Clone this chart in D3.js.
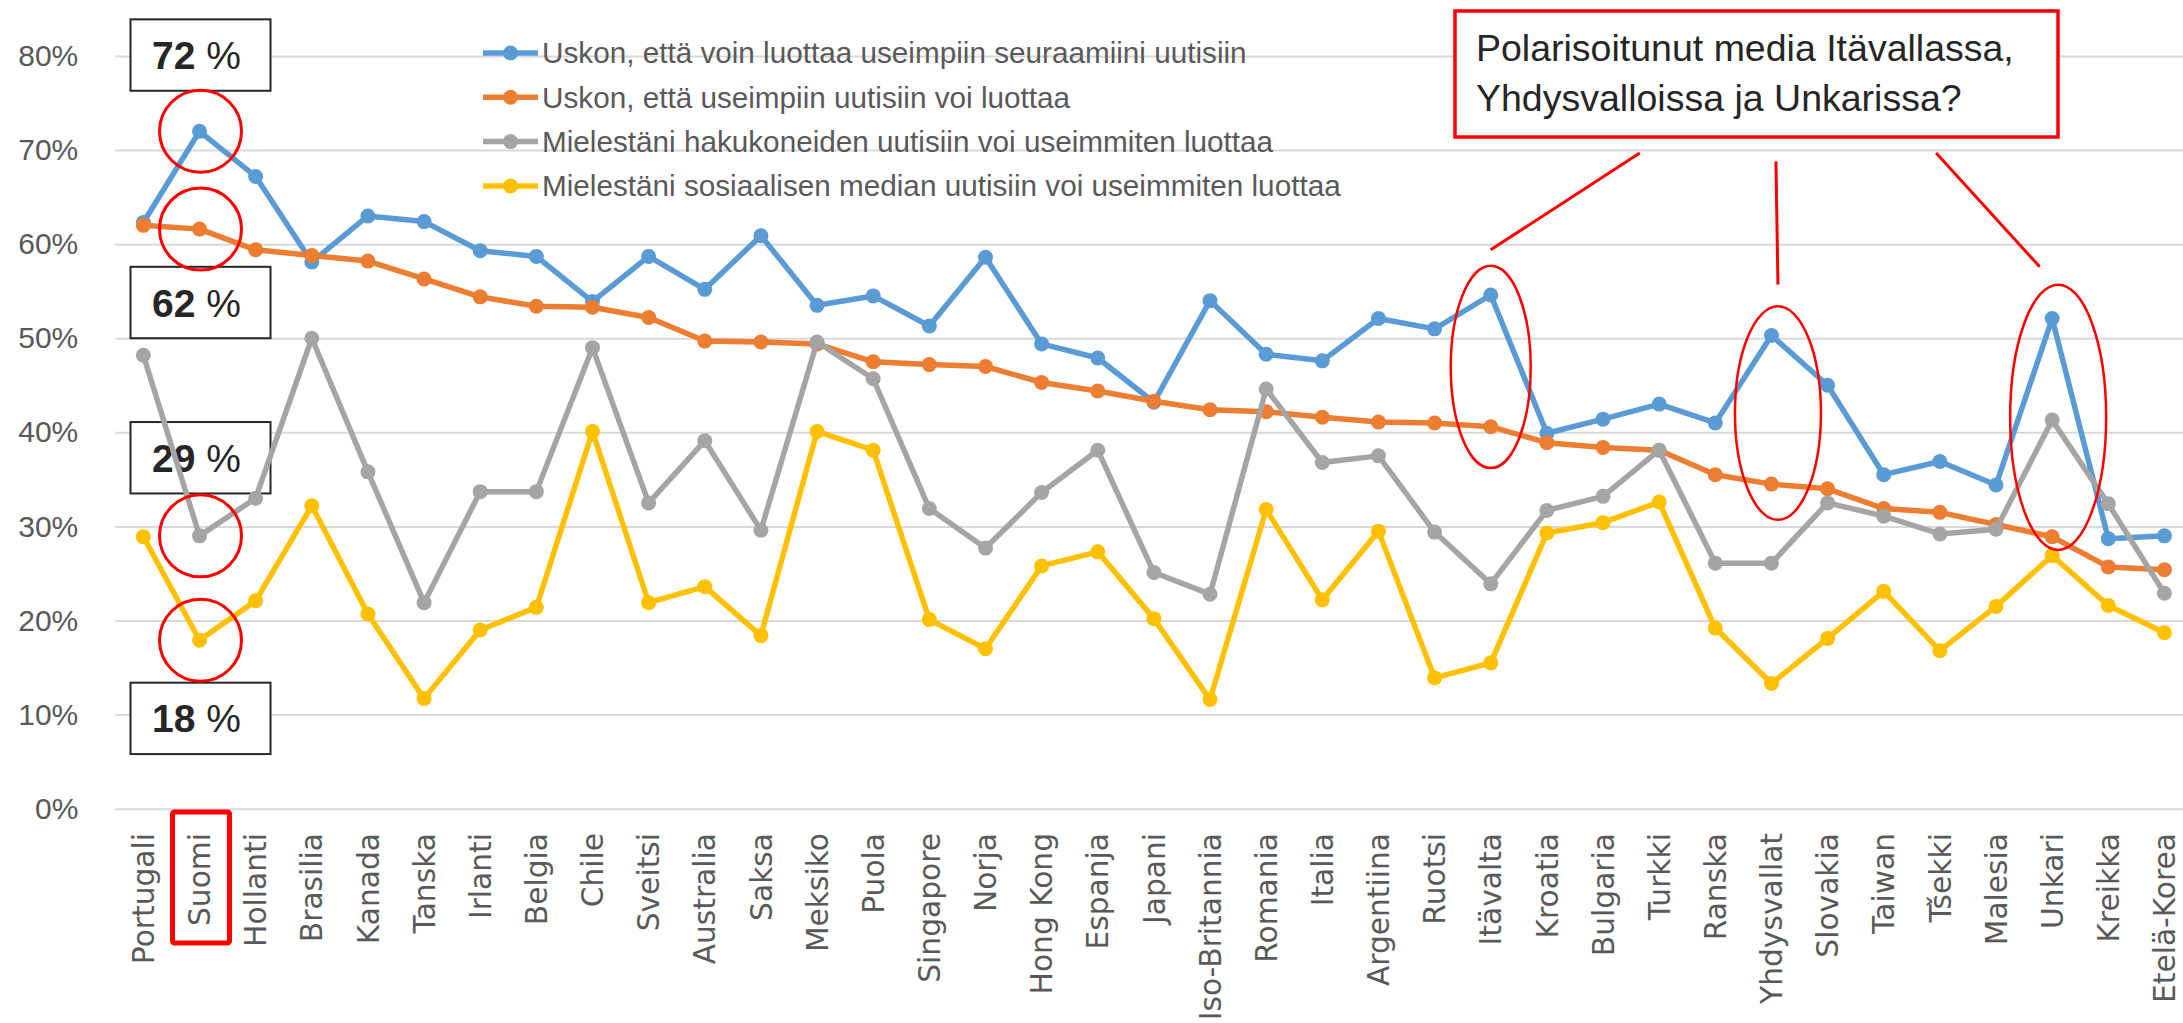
<!DOCTYPE html>
<html>
<head>
<meta charset="utf-8">
<script src="https://cdn.jsdelivr.net/npm/d3@7.9.0/dist/d3.min.js"></script>
<style>
  html, body { margin: 0; padding: 0; background: #fff; overflow: hidden; }
  svg { display: block; }
</style>
</head>
<body>
<svg id="chart" width="2183" height="1023"></svg>
<script>
// categories (countries) and the four series, in %
const categories = ["Portugali", "Suomi", "Hollanti", "Brasilia", "Kanada", "Tanska", "Irlanti", "Belgia",
  "Chile", "Sveitsi", "Australia", "Saksa", "Meksiko", "Puola", "Singapore", "Norja", "Hong Kong",
  "Espanja", "Japani", "Iso-Britannia", "Romania", "Italia", "Argentiina", "Ruotsi", "Itävalta",
  "Kroatia", "Bulgaria", "Turkki", "Ranska", "Yhdysvallat", "Slovakia", "Taiwan", "Tšekki",
  "Malesia", "Unkari", "Kreikka", "Etelä-Korea"];

const trustMyNews = [62.3, 72.0, 67.2, 58.1, 63.0, 62.4, 59.3, 58.7, 53.9, 58.7, 55.2, 60.9, 53.5,
  54.5, 51.3, 58.6, 49.4, 47.9, 43.2, 54.0, 48.3, 47.6, 52.1, 51.0, 54.6, 39.9, 41.4, 43.0, 41.0,
  50.3, 45.0, 35.5, 36.9, 34.4, 52.1, 28.7, 29.0];

const trustMostNews = [62.0, 61.6, 59.4, 58.8, 58.2, 56.3, 54.4, 53.4, 53.3, 52.2, 49.7, 49.6, 49.4,
  47.5, 47.2, 47.0, 45.3, 44.4, 43.3, 42.4, 42.2, 41.6, 41.1, 41.0, 40.6, 38.9, 38.4, 38.1, 35.5,
  34.5, 34.0, 31.9, 31.5, 30.2, 28.9, 25.7, 25.4];

const trustSearch = [48.2, 29.0, 33.0, 50.0, 35.8, 21.9, 33.7, 33.7, 49.0, 32.5, 39.1, 29.6, 49.6,
  45.7, 31.9, 27.7, 33.6, 38.1, 25.1, 22.8, 44.6, 36.8, 37.5, 29.4, 23.9, 31.7, 33.2, 38.1, 26.1,
  26.1, 32.5, 31.1, 29.2, 29.7, 41.3, 32.4, 22.9];

const trustSocial = [28.9, 17.9, 22.1, 32.2, 20.7, 11.7, 19.0, 21.4, 40.1, 21.9, 23.6, 18.4, 40.1,
  38.1, 20.1, 17.0, 25.8, 27.3, 20.2, 11.6, 31.8, 22.2, 29.5, 13.9, 15.5, 29.3, 30.4, 32.6, 19.2,
  13.3, 18.1, 23.1, 16.8, 21.5, 26.9, 21.6, 18.7];

const seriesNames = [
  "Uskon, että voin luottaa useimpiin seuraamiini uutisiin",
  "Uskon, että useimpiin uutisiin voi luottaa",
  "Mielestäni hakukoneiden uutisiin voi useimmiten luottaa",
  "Mielestäni sosiaalisen median uutisiin voi useimmiten luottaa"
];
const seriesColors = ["#5B9BD5", "#ED7D31", "#A5A5A5", "#FFC000"];
const yTicks = [0, 10, 20, 30, 40, 50, 60, 70, 80];

// callout boxes next to Suomi: number shown, level (%) the box is centred on
const suomiBoxes = [["72", 80.1], ["62", 53.8], ["29", 37.3], ["18", 9.6]];
const noteLines = ["Polarisoitunut media Itävallassa,", "Yhdysvalloissa ja Unkarissa?"];

const series = [trustMyNews, trustMostNews, trustSearch, trustSocial];

const svg = d3.select("#chart");
const gridLeft = 115.3, gridRight = 2192.5;

const x = d3.scaleBand().domain(categories).range([gridLeft, gridRight]).padding(0);
const cx = d => x(d) + x.bandwidth() / 2;
const y = d3.scaleLinear().domain([0, 80]).range([808.7, 56]);

// gridlines + y labels
const yAxis = d3.axisLeft(y)
  .tickValues(yTicks)
  .tickFormat(d => d + "%")
  .tickSizeInner(-(gridRight - gridLeft))
  .tickSizeOuter(0)
  .tickPadding(37);

const yg = svg.append("g")
  .attr("transform", `translate(${gridLeft},0)`)
  .call(yAxis);
yg.select(".domain").remove();
yg.selectAll(".tick line").attr("stroke", "#D9D9D9").attr("stroke-width", 2);
yg.selectAll(".tick text")
  .attr("fill", "#595959")
  .attr("font-family", "Liberation Sans, Arial, sans-serif")
  .attr("font-size", 30);

// x labels
const xAxis = d3.axisBottom(x).tickSize(0);
const xg = svg.append("g").attr("transform", "translate(0,833)").call(xAxis);
xg.select(".domain").remove();
xg.selectAll(".tick text")
  .attr("fill", "#595959")
  .attr("font-family", "DejaVu Sans, Verdana, sans-serif")
  .attr("font-size", 29.7)
  .attr("text-anchor", "end")
  .attr("transform", "rotate(-90)")
  .attr("x", 0)
  .attr("y", 0)
  .attr("dy", "0.36em");

// boxes with the Suomi values (above gridlines, under the series lines)
const suomiX = cx("Suomi");
suomiBoxes.forEach(([num, v]) => {
  const g = svg.append("g").attr("transform", `translate(${suomiX + 1},${y(v)})`);
  g.append("rect")
    .attr("x", -70).attr("y", -35.7).attr("width", 140).attr("height", 71.4)
    .attr("fill", "#fff").attr("stroke", "#262626").attr("stroke-width", 2);
  const t = g.append("text")
    .attr("x", -4)
    .attr("dy", "0.36em")
    .attr("text-anchor", "middle")
    .attr("fill", "#262626")
    .attr("font-family", "Liberation Sans, Arial, sans-serif")
    .attr("font-size", 39);
  t.append("tspan").attr("font-weight", "bold").text(num);
  t.append("tspan").text(" %");
});

// lines
const line = d3.line()
  .x((d, i) => cx(categories[i]))
  .y(d => y(d));

series.forEach((vals, si) => {
  svg.append("path")
    .datum(vals)
    .attr("d", line)
    .attr("fill", "none")
    .attr("stroke", seriesColors[si])
    .attr("stroke-width", 5.5)
    .attr("stroke-linejoin", "round");
  svg.append("g").selectAll("circle")
    .data(vals)
    .join("circle")
    .attr("cx", (d, i) => cx(categories[i]))
    .attr("cy", d => y(d))
    .attr("r", 7.5)
    .attr("fill", seriesColors[si]);
});

// legend
const legend = svg.append("g").attr("transform", "translate(483,53)");
seriesNames.forEach((name, i) => {
  const row = legend.append("g").attr("transform", `translate(0,${i * 44.3})`);
  row.append("line").attr("x1", 0).attr("x2", 55).attr("y1", 0).attr("y2", 0)
    .attr("stroke", seriesColors[i]).attr("stroke-width", 5.5);
  row.append("circle").attr("cx", 27.5).attr("cy", 0).attr("r", 7.5).attr("fill", seriesColors[i]);
  row.append("text")
    .attr("x", 59)
    .attr("dy", "0.35em")
    .attr("fill", "#595959")
    .attr("font-family", "Liberation Sans, Arial, sans-serif")
    .attr("font-size", 29.7)
    .text(name);
});

// Suomi highlights: red circles on its four points
series.forEach(vals => {
  svg.append("circle")
    .attr("cx", suomiX + 1)
    .attr("cy", y(vals[categories.indexOf("Suomi")]))
    .attr("r", 41)
    .attr("fill", "none")
    .attr("stroke", "#FF0000")
    .attr("stroke-width", 3);
});

// red frame around the Suomi label
svg.append("rect")
  .attr("x", suomiX - 27).attr("y", 812)
  .attr("width", 57).attr("height", 131)
  .attr("rx", 2)
  .attr("fill", "none").attr("stroke", "#FF0000").attr("stroke-width", 5);

// ellipses around the polarised countries: [country, top %, bottom %, radius x, dx]
const ellipses = [["Itävalta", 57.7, 36.2, 40, 0], ["Yhdysvallat", 53.4, 30.7, 43, 6.5], ["Unkari", 55.7, 27.5, 48, 6]];
ellipses.forEach(([c, top, bottom, rx, dx]) => {
  svg.append("ellipse")
    .attr("cx", cx(c) + dx)
    .attr("cy", (y(top) + y(bottom)) / 2)
    .attr("rx", rx)
    .attr("ry", (y(bottom) - y(top)) / 2)
    .attr("fill", "none")
    .attr("stroke", "#FF0000")
    .attr("stroke-width", 2.5);
});

// pointer lines from the note to the ellipses: [country, dx start, % start, dx end, % end]
const pointers = [["Itävalta", 149, 69.7, 0, 59.4], ["Yhdysvallat", 4.5, 68.8, 6.5, 55.7], ["Unkari", -116, 69.7, -12.5, 57.6]];
pointers.forEach(([c, dx1, v1, dx2, v2]) => {
  svg.append("line")
    .attr("x1", cx(c) + dx1).attr("y1", y(v1))
    .attr("x2", cx(c) + dx2).attr("y2", y(v2))
    .attr("stroke", "#FF0000").attr("stroke-width", 3);
});

// note box
const note = svg.append("g").attr("transform", "translate(1455,11)");
note.append("rect")
  .attr("width", 603).attr("height", 126)
  .attr("fill", "#fff").attr("stroke", "#FF0000").attr("stroke-width", 3.5);
noteLines.forEach((s, i) => {
  note.append("text")
    .attr("x", 21).attr("y", 50 + i * 50)
    .attr("fill", "#262626")
    .attr("font-family", "Liberation Sans, Arial, sans-serif")
    .attr("font-size", 37.5)
    .text(s);
});
</script>
</body>
</html>
